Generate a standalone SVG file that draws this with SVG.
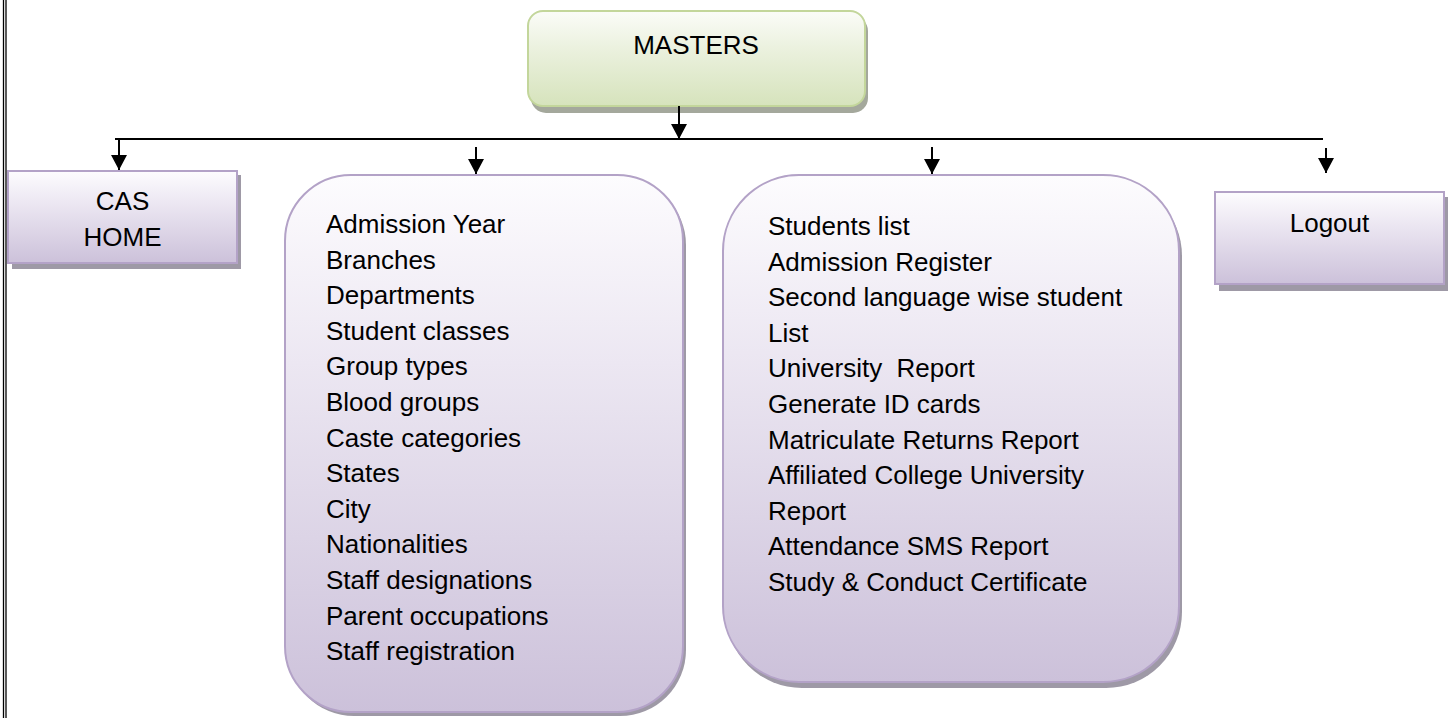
<svg xmlns="http://www.w3.org/2000/svg" width="1454" height="718" viewBox="0 0 1454 718">
  <style>
    .t { font-family: "Liberation Sans", Arial, sans-serif; font-size: 26px; fill: #000; }
    .c { text-anchor: middle; }
    .box { fill: url(#gPurple); stroke: #b3a2c7; stroke-width: 2; }
    .shadow { fill: #9e99a6; }
    .conn { stroke: #000; stroke-width: 2; fill: none; }
  </style>
  <defs>
    <linearGradient id="gPurple" x1="0" y1="0" x2="0" y2="1">
      <stop offset="0" stop-color="#fdfcfe"/>
      <stop offset="0.35" stop-color="#ece7f2"/>
      <stop offset="1" stop-color="#ccc1da"/>
    </linearGradient>
    <linearGradient id="gGreen" x1="0" y1="0" x2="0" y2="1">
      <stop offset="0" stop-color="#fbfcf8"/>
      <stop offset="0.4" stop-color="#ebf1de"/>
      <stop offset="1" stop-color="#d6e3bc"/>
    </linearGradient>
    <marker id="arr" markerUnits="userSpaceOnUse" markerWidth="15" markerHeight="16" refX="15" refY="8" orient="auto">
      <path d="M0,0 L15,8 L0,16 z" fill="#000"/>
    </marker>
  </defs>

  <rect width="1454" height="718" fill="#fff"/>
  <g id="border">
    <line x1="3.5" y1="0" x2="3.5" y2="718" stroke="#000" stroke-width="1.3"/>
    <line x1="6" y1="0" x2="6" y2="718" stroke="#000" stroke-width="1.3"/>
  </g>

  <g id="masters">
    <rect x="531" y="16" width="337" height="97" rx="15" fill="#a4a89c"/>
    <rect x="528" y="11" width="337" height="95" rx="15" fill="url(#gGreen)" stroke="#c3d69b" stroke-width="2"/>
    <text class="t c" x="696" y="54">MASTERS</text>
  </g>

  <g id="cas-home">
    <rect class="shadow" x="12" y="175" width="229" height="94"/>
    <rect class="box" x="8" y="171" width="229" height="92"/>
    <text class="t c" x="122.5" y="210">CAS</text>
    <text class="t c" x="122.5" y="246">HOME</text>
  </g>

  <g id="masters-list">
    <rect class="shadow" x="288" y="179" width="398" height="537" rx="66"/>
    <rect class="box" x="285" y="175" width="398" height="537" rx="66"/>
    <text class="t" x="326" y="233">Admission Year</text>
    <text class="t" x="326" y="268.6">Branches</text>
    <text class="t" x="326" y="304.2">Departments</text>
    <text class="t" x="326" y="339.8">Student classes</text>
    <text class="t" x="326" y="375.4">Group types</text>
    <text class="t" x="326" y="411">Blood groups</text>
    <text class="t" x="326" y="446.6">Caste categories</text>
    <text class="t" x="326" y="482.2">States</text>
    <text class="t" x="326" y="517.8">City</text>
    <text class="t" x="326" y="553.4">Nationalities</text>
    <text class="t" x="326" y="589">Staff designations</text>
    <text class="t" x="326" y="624.6">Parent occupations</text>
    <text class="t" x="326" y="660.2">Staff registration</text>
  </g>

  <g id="reports-list">
    <rect class="shadow" x="726" y="180" width="456" height="508" rx="76"/>
    <rect class="box" x="723" y="175" width="456" height="507" rx="76"/>
    <text class="t" x="768" y="235">Students list</text>
    <text class="t" x="768" y="270.6">Admission Register</text>
    <text class="t" x="768" y="306.2">Second language wise student</text>
    <text class="t" x="768" y="341.8">List</text>
    <text class="t" x="768" y="377.4" xml:space="preserve">University  Report</text>
    <text class="t" x="768" y="413">Generate ID cards</text>
    <text class="t" x="768" y="448.6">Matriculate Returns Report</text>
    <text class="t" x="768" y="484.2">Affiliated College University</text>
    <text class="t" x="768" y="519.8">Report</text>
    <text class="t" x="768" y="555.4">Attendance SMS Report</text>
    <text class="t" x="768" y="591">Study &amp; Conduct Certificate</text>
  </g>

  <g id="logout">
    <rect class="shadow" x="1219" y="197" width="229" height="94"/>
    <rect class="box" x="1215" y="192" width="229" height="92"/>
    <text class="t c" x="1329.5" y="232">Logout</text>
  </g>

  <g id="connectors">
    <line class="conn" x1="679" y1="106" x2="679" y2="139" marker-end="url(#arr)"/>
    <line class="conn" x1="115" y1="139" x2="1323" y2="139"/>
    <line class="conn" x1="119" y1="139" x2="119" y2="170" marker-end="url(#arr)"/>
    <line class="conn" x1="476" y1="147" x2="476" y2="174" marker-end="url(#arr)"/>
    <line class="conn" x1="932" y1="147" x2="932" y2="174" marker-end="url(#arr)"/>
    <line class="conn" x1="1326" y1="148" x2="1326" y2="173" marker-end="url(#arr)"/>
  </g>
</svg>
